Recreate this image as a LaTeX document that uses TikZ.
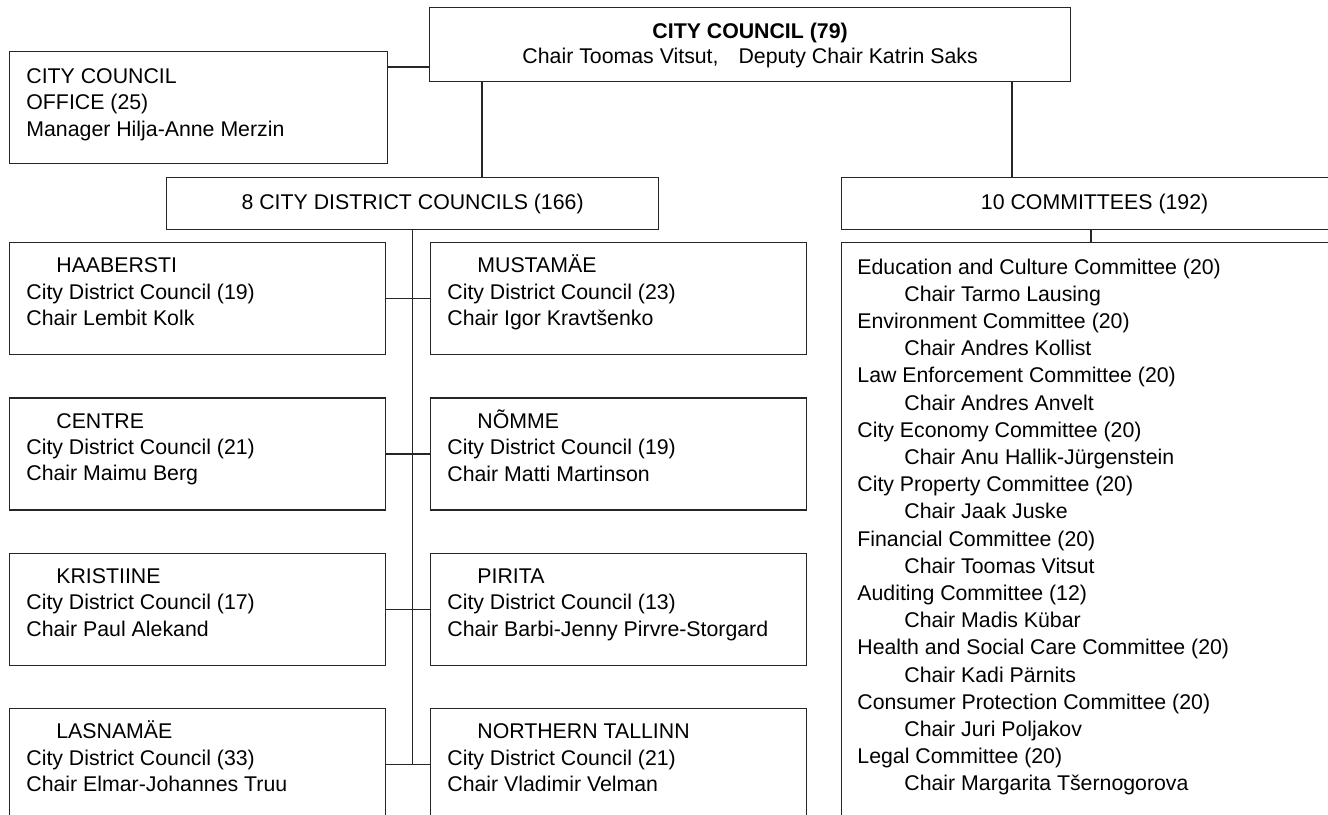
\documentclass[tikz,border=0pt]{standalone}
\usepackage{fontspec}
\setmainfont{Liberation Sans}
\usepackage{tikz}
\usetikzlibrary{positioning}
\def\chairline#1{\hspace*{23.5pt}Chair #1}
\tikzstyle{link}=[draw=black!85, line width=0.6pt]
\tikzstyle{unit}=[link, anchor=north west, inner sep=0pt, align=center, font=\fontsize{10.65}{12.5}\selectfont]
\tikzstyle{district}=[unit, minimum width=188pt, minimum height=56pt]
\tikzstyle{info}=[anchor=north west, inner sep=0pt, align=left, font=\fontsize{10.65}{13.1}\selectfont]
\tikzstyle{list}=[info, font=\fontsize{10.65}{13.6}\selectfont]

\begin{document}
\begin{tikzpicture}[x=0.5pt, y=-0.5pt]
	\useasboundingbox (0,0) rectangle (1328,814);
	\clip (0,0) rectangle (1328,814);
		% council and office
		\node[unit, minimum width=320.5pt, minimum height=37pt] (CC) at (429,7) {\rule{0pt}{9pt}\textbf{CITY COUNCIL (79)}\\Chair Toomas Vitsut,\hspace{10pt}Deputy Chair Katrin Saks};
		\node[unit, minimum width=189pt, minimum height=56pt] (OF) at (9,51) {};
		\node[info, below right=7pt and 8.5pt of OF.north west] (OF-t) {\strut CITY COUNCIL\\OFFICE (25)\\Manager Hilja-Anne Merzin};
		% headers
		\node[unit, minimum width=246pt, minimum height=26pt] (DC) at (166,177) {8 CITY DISTRICT COUNCILS (166)};
		\node[unit, minimum width=253pt, minimum height=26pt] (CH) at (841,177) {10 COMMITTEES (192)};
		% districts
		\node[district] (L-1) at (9,242) {};
		\node[district] (R-1) at (430,242) {};
		\node[district] (L-2) at (9,397.3) {};
		\node[district] (R-2) at (430,397.3) {};
		\node[district] (L-3) at (9,552.7) {};
		\node[district] (R-3) at (430,552.7) {};
		\node[district] (L-4) at (9,708) {};
		\node[district] (R-4) at (430,708) {};
		\node[info, below right=6.1pt and 8.5pt of L-1.north west] (L-1-t) {\strut\hspace*{15pt}HAABERSTI\\City District Council (19)\\Chair Lembit Kolk};
		\node[info, below right=6.1pt and 8.5pt of R-1.north west] (R-1-t) {\strut\hspace*{15pt}MUSTAMÄE\\City District Council (23)\\Chair Igor Kravtšenko};
		\node[info, below right=6.1pt and 8.5pt of L-2.north west] (L-2-t) {\strut\hspace*{15pt}CENTRE\\City District Council (21)\\Chair Maimu Berg};
		\node[info, below right=6.1pt and 8.5pt of R-2.north west] (R-2-t) {\strut\hspace*{15pt}NÕMME\\City District Council (19)\\Chair Matti Martinson};
		\node[info, below right=6.1pt and 8.5pt of L-3.north west] (L-3-t) {\strut\hspace*{15pt}KRISTIINE\\City District Council (17)\\Chair Paul Alekand};
		\node[info, below right=6.1pt and 8.5pt of R-3.north west] (R-3-t) {\strut\hspace*{15pt}PIRITA\\City District Council (13)\\Chair Barbi-Jenny Pirvre-Storgard};
		\node[info, below right=6.1pt and 8.5pt of L-4.north west] (L-4-t) {\strut\hspace*{15pt}LASNAMÄE\\City District Council (33)\\Chair Elmar-Johannes Truu};
		\node[info, below right=6.1pt and 8.5pt of R-4.north west] (R-4-t) {\strut\hspace*{15pt}NORTHERN TALLINN\\City District Council (21)\\Chair Vladimir Velman};
		% committees
		\node[unit, minimum width=300pt, minimum height=300pt] (CL) at (841,242) {};
		\node[list, below right=6.3pt and 8pt of CL.north west] (CL-t) {\strut Education and Culture Committee (20)\\\chairline{Tarmo Lausing}\\
			Environment Committee (20)\\\chairline{Andres Kollist}\\
			Law Enforcement Committee (20)\\\chairline{Andres Anvelt}\\
			City Economy Committee (20)\\\chairline{Anu Hallik-Jürgenstein}\\
			City Property Committee (20)\\\chairline{Jaak Juske}\\
			Financial Committee (20)\\\chairline{Toomas Vitsut}\\
			Auditing Committee (12)\\\chairline{Madis Kübar}\\
			Health and Social Care Committee (20)\\\chairline{Kadi Pärnits}\\
			Consumer Protection Committee (20)\\\chairline{Juri Poljakov}\\
			Legal Committee (20)\\\chairline{Margarita Tšernogorova}};
		% connectors
		\coordinate (o-link) at (0,67);
		\coordinate (d-link) at (482,0);
		\coordinate (c-link) at (1012,0);
		\coordinate (l-link) at (1091,0);
		\draw[link] (OF.east |- o-link) -- (CC.west |- o-link);
		\draw[link] (CC.south -| d-link) -- (DC.north -| d-link);
		\draw[link] (CC.south -| c-link) -- (CH.north -| c-link);
		\draw[link] (CH.south -| l-link) -- (CL.north -| l-link);
		\draw[link] (DC) -- (DC |- L-4.east);
		\path 
		(L-1) edge[link] (R-1)
		(L-2) edge[link] (R-2)
		(L-3) edge[link] (R-3)
		(L-4) edge[link] (R-4);
	\end{tikzpicture}
\end{document}
